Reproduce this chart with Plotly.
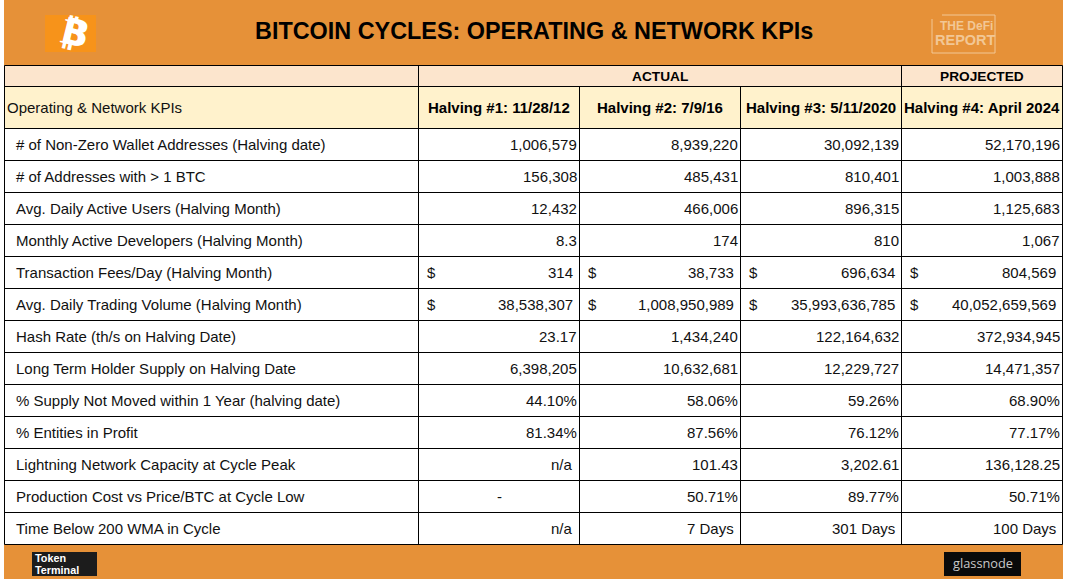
import plotly.graph_objects as go

# table text
title = "BITCOIN CYCLES: OPERATING & NETWORK KPIs"
corner = "Operating & Network KPIs"
headers = ["Halving #1: 11/28/12", "Halving #2: 7/9/16", "Halving #3: 5/11/2020", "Halving #4: April 2024"]
kpis = [
    "# of Non-Zero Wallet Addresses (Halving date)",
    "# of Addresses with > 1 BTC",
    "Avg. Daily Active Users (Halving Month)",
    "Monthly Active Developers (Halving Month)",
    "Transaction Fees/Day (Halving Month)",
    "Avg. Daily Trading Volume (Halving Month)",
    "Hash Rate (th/s on Halving Date)",
    "Long Term Holder Supply on Halving Date",
    "% Supply Not Moved within 1 Year (halving date)",
    "% Entities in Profit",
    "Lightning Network Capacity at Cycle Peak",
    "Production Cost vs Price/BTC at Cycle Low",
    "Time Below 200 WMA in Cycle",
]
halving_1 = ["1,006,579", "156,308", "12,432", "8.3", "314", "38,538,307", "23.17",
             "6,398,205", "44.10%", "81.34%", "n/a", "-", "n/a"]
halving_2 = ["8,939,220", "485,431", "466,006", "174", "38,733", "1,008,950,989", "1,434,240",
             "10,632,681", "58.06%", "87.56%", "101.43", "50.71%", "7 Days"]
halving_3 = ["30,092,139", "810,401", "896,315", "810", "696,634", "35,993,636,785", "122,164,632",
             "12,229,727", "59.26%", "76.12%", "3,202.61", "89.77%", "301 Days"]
halving_4 = ["52,170,196", "1,003,888", "1,125,683", "1,067", "804,569", "40,052,659,569", "372,934,945",
             "14,471,357", "68.90%", "77.17%", "136,128.25", "50.71%", "100 Days"]
columns = [halving_1, halving_2, halving_3, halving_4]
dollar_rows = [4, 5]

# layout, in page pixels
ORANGE = "#E69138"
FONT = "Liberation Sans"
BODY = 15
col_x = [418.5, 579.5, 740.5, 901.5, 1062.5]
left = 4.5
top = 65.5
band_y = 86.5
head_y = 128.5
row_h = 32
table_bottom = head_y + row_h * len(kpis)

fig = go.Figure()
shapes = []
notes = []


def rect(x0, y0, x1, y1, fill, line=None, width=1):
    shapes.append(dict(type="rect", x0=x0, y0=y0, x1=x1, y1=y1, fillcolor=fill, layer="below",
                       line=dict(color=line or fill, width=width if line else 0)))


def seg(x0, y0, x1, y1, color="#000000", width=1):
    shapes.append(dict(type="line", x0=x0, y0=y0, x1=x1, y1=y1, layer="below",
                       line=dict(color=color, width=width)))


def text(x, y, s, anchor="left", size=BODY, bold=False, color="#111111", angle=0, family=FONT):
    s = s.replace("&", "&amp;").replace(">", "&gt;")
    notes.append(dict(x=x, y=y, text=f"<b>{s}</b>" if bold else s, xanchor=anchor, yanchor="middle",
                      showarrow=False, textangle=angle, borderpad=0, xref="x", yref="y",
                      font=dict(family=family, size=size, color=color)))


# banner and footer
rect(4, 0, 1063, table_bottom, ORANGE)
rect(4, table_bottom, 1063, 579, ORANGE)

# header fills
rect(left, top, col_x[4], band_y, "#FCE5CD")
rect(left, band_y, col_x[4], head_y, "#FFF2CC")
rect(left, head_y, col_x[4], table_bottom, "#FFFFFF")

# grid
seg(left, top, col_x[4], top)
seg(left, band_y, col_x[4], band_y)
for i in range(len(kpis) + 1):
    seg(left, head_y + i * row_h, col_x[4], head_y + i * row_h)
seg(left, top, left, table_bottom)
seg(col_x[0], top, col_x[0], table_bottom)
seg(col_x[3], top, col_x[3], table_bottom)
seg(col_x[4], top, col_x[4], table_bottom)
seg(col_x[1], band_y, col_x[1], table_bottom)
seg(col_x[2], band_y, col_x[2], table_bottom)

# title and logos
text(533.5, 31, title, anchor="center", size=23.4, bold=True, color="#000000")
rect(45, 15, 96, 52, "#F7931A")
text(74, 32.5, "₿", anchor="center", size=36, bold=True, color="#FFFFFF", angle=14, family="DejaVu Sans")
text(75, 32.5, "B", anchor="center", size=36, bold=True, color="#FFFFFF", angle=14, family="DejaVu Sans")

LOGO = "#F2C795"
seg(942, 15, 995, 15, LOGO)
seg(995, 15, 995, 53, LOGO)
seg(995, 53, 932, 53, LOGO)
seg(932, 53, 932, 19, LOGO)
text(966, 26, "THE DeFi", anchor="center", size=12, bold=True, color=LOGO)
text(965, 40, "REPORT", anchor="center", size=14.5, bold=True, color=LOGO)

rect(32, 552, 97, 576, "#1C1C1C")
text(33.5, 557.7, "Token", size=10.8, bold=True, color="#FFFFFF")
text(33.5, 570, "Terminal", size=10.8, bold=True, color="#FFFFFF")
rect(944, 552, 1021, 576, "#0A0A0A")
text(983, 563, "glassnode", anchor="center", size=12.8, color="#C8C8C8", family="Open Sans")

# header text
text((col_x[0] + col_x[3]) / 2, 76, "ACTUAL", anchor="center", size=13.7, bold=True, color="#000000")
text((col_x[3] + col_x[4]) / 2, 76, "PROJECTED", anchor="center", size=13.7, bold=True, color="#000000")
text(5.5, 107.5, corner)
for j, h in enumerate(headers):
    text((col_x[j] + col_x[j + 1]) / 2, 107.5, h, anchor="center", bold=True, color="#000000")

# body
for i, k in enumerate(kpis):
    yc = head_y + row_h * (i + 0.5)
    text(15, yc, k)
    for j, col in enumerate(columns):
        v = col[i]
        if v == "-":
            text(col_x[j] + 81, yc, v, anchor="center")
            continue
        inset = 1.5
        if i in dollar_rows or v == "n/a" or v.endswith("Days"):
            inset = 5.5
        text(col_x[j + 1] - inset, yc, v, anchor="right")
        if i in dollar_rows:
            text(col_x[j] + 7, yc, "$")

fig.update_layout(
    width=1067, height=579, margin=dict(l=0, r=0, t=0, b=0),
    paper_bgcolor="#FFFFFF", plot_bgcolor="#FFFFFF", showlegend=False,
    xaxis=dict(range=[0, 1067], visible=False, fixedrange=True),
    yaxis=dict(range=[579, 0], visible=False, fixedrange=True),
    shapes=shapes, annotations=notes,
)
fig.write_html("out.html", config={"displayModeBar": False},
               post_script="document.body.style.margin='0';document.body.style.overflow='hidden';")
